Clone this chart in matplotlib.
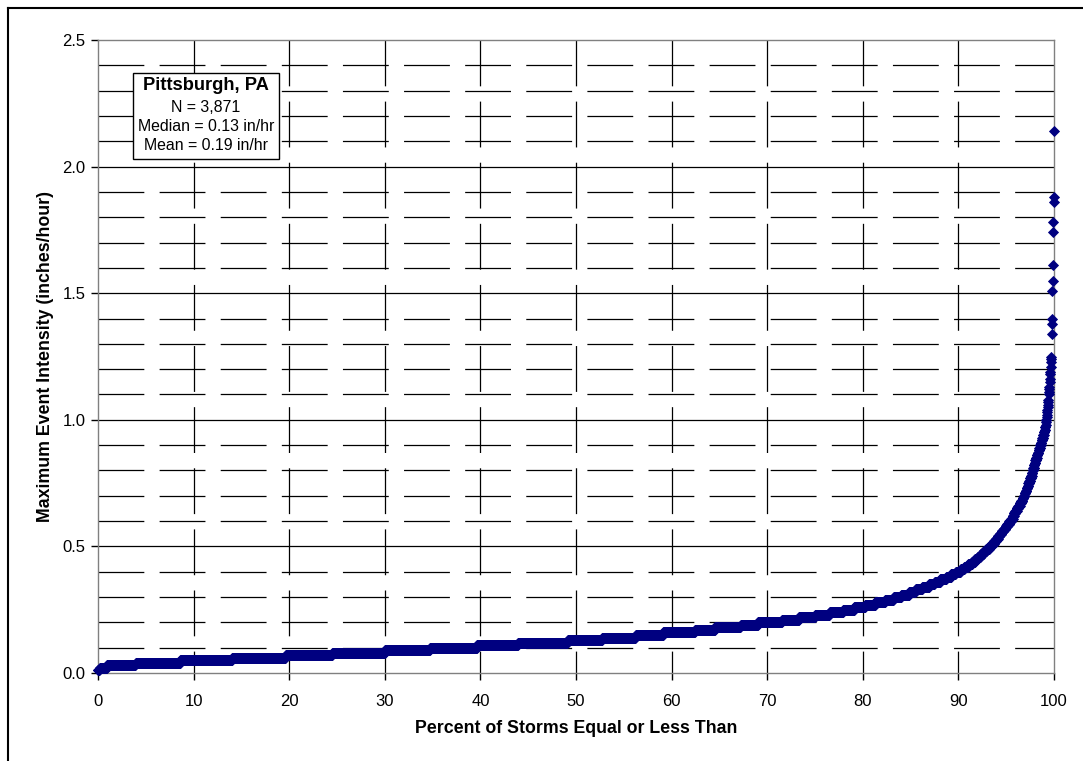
import numpy as np
import matplotlib
matplotlib.use("Agg")
import matplotlib.pyplot as plt
from matplotlib.lines import Line2D

plt.rcParams['font.family'] = ['Liberation Sans', 'DejaVu Sans']
plt.rcParams['lines.scale_dashes'] = False

# ---- data ----
N_STORMS = 3871
# intensity levels (in/hr) and the cumulative percent of storms at which each level ends
levels = [0.01, 0.02, 0.03, 0.04, 0.05, 0.06, 0.07, 0.08, 0.09, 0.10,
          0.11, 0.12, 0.13, 0.14, 0.15, 0.16, 0.17, 0.18, 0.19, 0.20,
          0.21, 0.22, 0.23, 0.24, 0.25, 0.26, 0.27, 0.28, 0.29, 0.30,
          0.31, 0.32, 0.33, 0.34, 0.35, 0.36, 0.37, 0.38, 0.39, 0.40,
          0.41, 0.42, 0.43, 0.44, 0.45, 0.46, 0.47, 0.48, 0.49, 0.50,
          0.51, 0.52, 0.53, 0.54, 0.55, 0.56, 0.57, 0.58, 0.59, 0.60,
          0.61, 0.62, 0.63, 0.64, 0.65, 0.66, 0.67, 0.68, 0.69, 0.70,
          0.71, 0.72, 0.73, 0.74, 0.75, 0.76, 0.77, 0.78, 0.79, 0.80,
          0.81, 0.82, 0.83, 0.84, 0.85, 0.86, 0.87, 0.88, 0.89, 0.90,
          0.91, 0.92, 0.93, 0.94, 0.95]
level_end_pct = [0.15, 0.9, 3.9, 8.6, 14.0, 19.6, 24.5, 30.0, 34.7, 39.6,
                 43.9, 49.1, 52.7, 56.2, 59.1, 62.4, 64.5, 67.2, 69.0, 71.5,
                 73.3, 75.0, 76.5, 77.9, 79.1, 80.2, 81.3, 82.3, 83.2, 84.0,
                 84.8, 85.5, 86.2, 86.9, 87.5, 88.1, 88.7, 89.2, 89.7, 90.2,
                 90.6, 91.0, 91.4, 91.7, 92.0, 92.3, 92.6, 92.9, 93.2, 93.45,
                 93.7, 93.9, 94.1, 94.3, 94.5, 94.7, 94.9, 95.1, 95.3, 95.5,
                 95.65, 95.8, 95.95, 96.1, 96.25, 96.4, 96.55, 96.7, 96.8, 96.9,
                 97.0, 97.1, 97.2, 97.3, 97.4, 97.48, 97.56, 97.64, 97.72, 97.8,
                 97.88, 97.96, 98.04, 98.12, 98.2, 98.28, 98.36, 98.44, 98.52, 98.6,
                 98.68, 98.76, 98.84, 98.92, 99.0]
# largest individual storms (in/hr)
tail_values = [0.96, 0.96, 0.97, 0.97, 0.98, 0.99, 1.00, 1.00, 1.01, 1.02,
               1.03, 1.04, 1.05, 1.06, 1.07, 1.08, 1.10, 1.11, 1.12, 1.13,
               1.15, 1.16, 1.18, 1.19, 1.21, 1.23, 1.24, 1.25, 1.34, 1.38,
               1.40, 1.51, 1.55, 1.61, 1.74, 1.78, 1.86, 1.88, 2.14]

x_ticks = [0, 10, 20, 30, 40, 50, 60, 70, 80, 90, 100]
y_ticks = [0.0, 0.5, 1.0, 1.5, 2.0, 2.5]
info_title = "Pittsburgh, PA"
info_lines = ["N = 3,871", "Median = 0.13 in/hr", "Mean = 0.19 in/hr"]

# ---- build the sorted sample from the frequency table ----
values = []
prev = 0
for lv, pct in zip(levels, level_end_pct):
    end = int(round(pct * N_STORMS / 100.0))
    values.extend([lv] * (end - prev))
    prev = end
values.extend(tail_values)
values = np.array(values[:N_STORMS])
pct_rank = 100.0 * np.arange(1, len(values) + 1) / N_STORMS

# ---- figure ----
W, H = 1083, 761
fig = plt.figure(figsize=(W / 100, H / 100), dpi=100)
L, R, T, B = 98, 1054, 40, 673
ax = fig.add_axes([L / W, 1 - B / H, (R - L) / W, (B - T) / H])

ax.set_xlim(0, 100)
ax.set_ylim(0, 2.5)

# grid
dash = (0, (33, 11))
minor_y = [round(0.1 * k, 1) for k in range(1, 25) if k % 5 != 0]
major_y = [0.5, 1.0, 1.5, 2.0]
ax.hlines(minor_y, 0, 100, colors='black', linewidth=0.9, linestyles=[dash], zorder=1)
ax.hlines(major_y, 0, 100, colors='black', linewidth=0.9, zorder=1)
ax.vlines(x_ticks[1:-1], 2.5, 0, colors='black', linewidth=0.9, linestyles=[dash], zorder=1)

# data
ax.plot(pct_rank, values, linestyle='none', marker='D', markersize=5.6,
        color='#000080', markeredgecolor='#000080', markeredgewidth=0.6, zorder=3,
        clip_on=False)

for s in ax.spines.values():
    s.set_color('#808080')
    s.set_linewidth(1.0)

ax.set_xticks(x_ticks)
ax.set_yticks(y_ticks)
ax.set_yticklabels([f"{v:.1f}" for v in y_ticks])
ax.tick_params(axis='both', direction='out', length=5, width=1, color='black',
               labelsize=12)
ax.tick_params(axis='x', pad=10)
ax.tick_params(axis='y', pad=4)

ax.set_xlabel("Percent of Storms Equal or Less Than", fontsize=12.8, fontweight='bold', labelpad=8)
ax.set_ylabel("Maximum Event Intensity (inches/hour)", fontsize=12.8, fontweight='bold', labelpad=6)

# info box
bx0, by0, bx1, by1 = 133, 73, 279, 159
box = plt.Rectangle((bx0 / W, 1 - by1 / H), (bx1 - bx0) / W, (by1 - by0) / H,
                    transform=fig.transFigure, facecolor='white', edgecolor='black',
                    linewidth=1.0, zorder=5)
fig.patches.append(box)
cx = (bx0 + bx1) / 2 / W
fig.text(cx, 1 - 86 / H, info_title, ha='center', va='center', fontsize=13.2,
         fontweight='bold', zorder=6)
for i, line in enumerate(info_lines):
    fig.text(cx, 1 - (108 + 18.5 * i) / H, line, ha='center', va='center', fontsize=11.4, zorder=6)

# outer chart border (top and left visible)
fig.add_artist(Line2D([8 / W, 8 / W], [1 - 8 / H, 0], transform=fig.transFigure,
                      color='black', linewidth=1.5))
fig.add_artist(Line2D([8 / W, 1], [1 - 8 / H, 1 - 8 / H], transform=fig.transFigure,
                      color='black', linewidth=1.5))

fig.savefig("out.png", dpi=100, facecolor='white')
